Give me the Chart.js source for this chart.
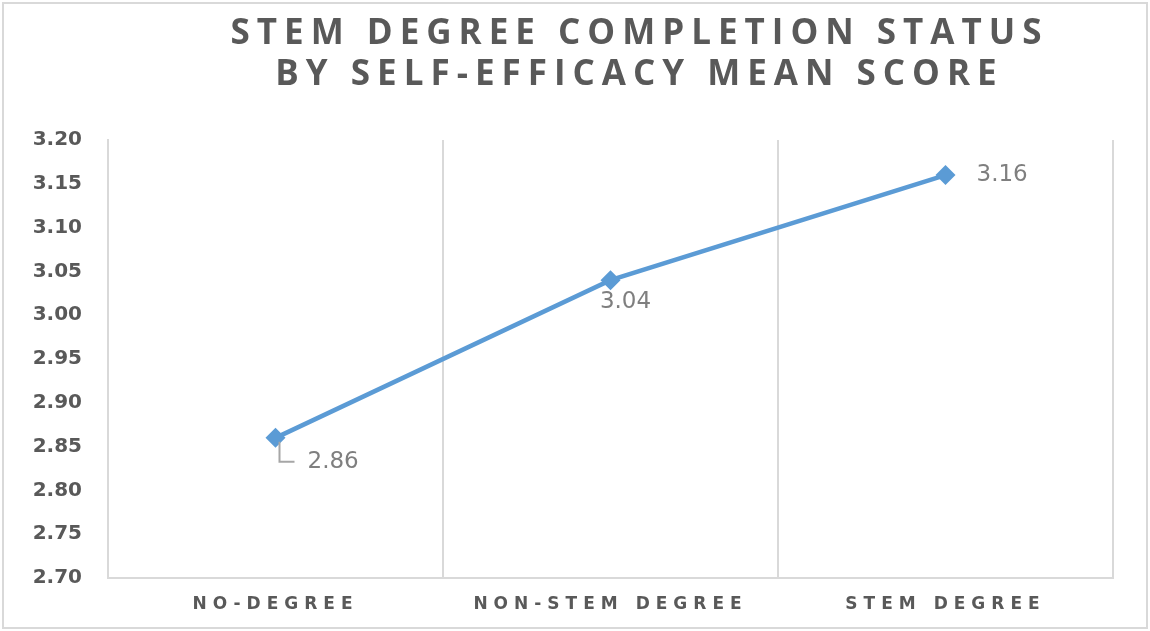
<!DOCTYPE html>
<html>
<head>
<meta charset="utf-8">
<script src="https://cdn.jsdelivr.net/npm/chart.js@4.4.1/dist/chart.umd.min.js"></script>
<style>
  html, body { margin: 0; padding: 0; background: #fff; }
</style>
</head>
<body>
<canvas id="myChart" width="1150" height="631"></canvas>
<script>
// data
let categories = ['NO-DEGREE', 'NON-STEM DEGREE', 'STEM DEGREE'];
let meanScores = [2.86, 3.04, 3.16];
let titleLines = ['STEM DEGREE COMPLETION STATUS', 'BY SELF-EFFICACY MEAN SCORE'];
let yMin = 2.70, yMax = 3.20, yStep = 0.05;

// where each value label sits relative to its point (dx, dy, align)
let labelPlacement = [
  { dx: 32, dy: 24, align: 'left', leader: true },
  { dx: 15, dy: 22, align: 'center', leader: false },
  { dx: 31, dy: 0, align: 'left', leader: false }
];

let textGrey = '#595959';
let gridGrey = '#d9d9d9';
let lineBlue = '#5b9bd5';

// frame + title + value labels
let decorations = {
  id: 'decorations',
  beforeDraw(chart) {
    let ctx = chart.ctx;
    ctx.save();
    ctx.strokeStyle = gridGrey;
    ctx.lineWidth = 2;
    ctx.strokeRect(3, 3, chart.width - 6, chart.height - 6);
    ctx.restore();

    // spaced letters for the category labels
    let xs = chart.scales.x;
    if (xs && !xs._spaced) {
      let orig = xs.drawLabels.bind(xs);
      xs.drawLabels = function (area) {
        ctx.save();
        ctx.letterSpacing = '6px';
        orig(area);
        ctx.restore();
      };
      xs._spaced = true;
    }
  },
  afterDatasetsDraw(chart) {
    let ctx = chart.ctx;
    let pts = chart.getDatasetMeta(0).data;
    ctx.save();
    ctx.font = '23px "DejaVu Sans"';
    ctx.fillStyle = '#7f7f7f';
    ctx.textBaseline = 'middle';
    pts.forEach((pt, i) => {
      let p = labelPlacement[i];
      let tx = pt.x + p.dx, ty = pt.y + p.dy;
      if (p.leader) {
        ctx.strokeStyle = '#a6a6a6';
        ctx.lineWidth = 2;
        ctx.beginPath();
        ctx.moveTo(pt.x + 4, pt.y + 4);
        ctx.lineTo(pt.x + 4, ty);
        ctx.lineTo(tx - 13, ty);
        ctx.stroke();
      }
      ctx.textAlign = p.align;
      ctx.fillText(meanScores[i].toFixed(2), tx, ty);
    });
    ctx.restore();
  },
  afterDraw(chart) {
    let ctx = chart.ctx;
    let area = chart.chartArea;
    let cx = (area.left + area.right) / 2 + 26;
    ctx.save();
    ctx.font = 'bold 35px "Open Sans"';
    ctx.fillStyle = textGrey;
    ctx.textAlign = 'center';
    ctx.textBaseline = 'alphabetic';
    ctx.letterSpacing = '7px';
    ctx.fillText(titleLines[0], cx + 3, 44);
    ctx.fillText(titleLines[1], cx + 3, 85);
    ctx.restore();
  }
};

let ctx = document.getElementById('myChart').getContext('2d');
let myChart = new Chart(ctx, {
  type: 'line',
  data: {
    labels: categories,
    datasets: [{
      data: meanScores,
      borderColor: lineBlue,
      backgroundColor: lineBlue,
      borderWidth: 4.5,
      tension: 0,
      pointStyle: 'rectRot',
      pointRadius: 10,
      pointBorderWidth: 0,
      pointBackgroundColor: lineBlue
    }]
  },
  options: {
    responsive: false,
    animation: false,
    layout: {
      padding: { top: 140, right: 37, left: 0, bottom: 0 }
    },
    plugins: {
      legend: { display: false },
      tooltip: { enabled: false },
      title: { display: false }
    },
    scales: {
      x: {
        offset: true,
        grid: {
          offset: true,
          color: gridGrey,
          lineWidth: 2,
          drawTicks: false
        },
        border: { display: true, color: gridGrey, width: 2 },
        ticks: {
          color: textGrey,
          padding: 16,
          maxRotation: 0,
          font: { family: '"DejaVu Sans"', size: 17, weight: 'bold' }
        },
        afterFit: (s) => { s.height = 53; }
      },
      y: {
        min: yMin,
        max: yMax,
        grid: { display: false, drawTicks: false },
        border: { display: true, color: gridGrey, width: 2 },
        ticks: {
          stepSize: yStep,
          color: textGrey,
          padding: 26,
          font: { family: '"DejaVu Sans"', size: 20, weight: 'bold' },
          callback: (v) => Number(v).toFixed(2)
        },
        afterFit: (s) => { s.width = 108; }
      }
    }
  },
  plugins: [decorations]
});
myChart.draw();
</script>
</body>
</html>
